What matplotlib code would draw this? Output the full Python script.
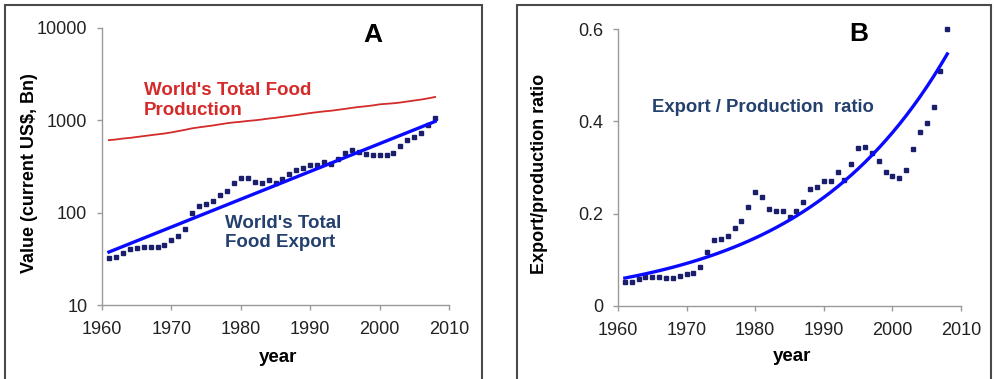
import numpy as np
import matplotlib
matplotlib.use('Agg')
import matplotlib.pyplot as plt
from matplotlib.patches import Rectangle
from matplotlib.ticker import FixedLocator, FixedFormatter

plt.rcParams['font.family'] = ['Liberation Sans', 'DejaVu Sans']

years = list(range(1961, 2009))

# world food export, current US$ bn (panel A markers)
food_export = [32.5, 33, 37, 40, 41, 42.5, 43, 43, 45, 51,
               56, 66, 99, 117, 124, 134, 155, 172, 210, 238,
               238, 215, 210, 224, 210, 229, 261, 293, 308, 326,
               326, 355, 340, 385, 444, 474, 455, 437, 420, 420,
               420, 447, 524, 610, 660, 730, 883, 1070]

# world food production, current US$ bn (panel A red line)
food_production = [610, 620, 635, 645, 660, 675, 690, 705, 720, 740,
                   765, 790, 820, 840, 860, 880, 905, 930, 950, 965,
                   985, 1000, 1020, 1045, 1065, 1090, 1115, 1140, 1170, 1200,
                   1225, 1250, 1270, 1300, 1330, 1365, 1395, 1420, 1450, 1490,
                   1510, 1530, 1560, 1600, 1640, 1680, 1730, 1790]

# export / production ratio (panel B markers)
export_ratio = [0.053, 0.053, 0.058, 0.062, 0.062, 0.063, 0.061, 0.060, 0.065, 0.069,
                0.071, 0.085, 0.116, 0.143, 0.145, 0.152, 0.170, 0.185, 0.215, 0.246,
                0.237, 0.211, 0.206, 0.206, 0.193, 0.206, 0.226, 0.253, 0.257, 0.271,
                0.271, 0.290, 0.273, 0.307, 0.342, 0.344, 0.332, 0.313, 0.290, 0.282,
                0.278, 0.295, 0.340, 0.376, 0.397, 0.432, 0.509, 0.599]

x_ticks = [1960, 1970, 1980, 1990, 2000, 2010]

RED = '#d42a2a'
NAVY = '#24406e'
MARK = '#1b1f6b'
BLUE = '#0a0aff'
SPINE = '#9a9a9a'


def style_axis(ax):
    for s in ['top', 'right']:
        ax.spines[s].set_visible(False)
    for s in ['left', 'bottom']:
        ax.spines[s].set_color(SPINE)
        ax.spines[s].set_linewidth(1.0)
    ax.tick_params(axis='both', which='major', direction='out', length=3.6,
                   width=1.0, color=SPINE, labelsize=13, labelcolor='#222222')
    ax.tick_params(axis='y', pad=7)
    ax.tick_params(axis='x', pad=8)
    ax.tick_params(axis='y', which='minor', length=0)
    ax.set_xlim(1960, 2010)
    ax.set_xticks(x_ticks)


def main():
    fig = plt.figure(figsize=(9.94, 3.79), dpi=100)
    yr = np.array(years)

    # panel frames
    for x0, x1 in [(5, 482), (517, 991)]:
        fig.add_artist(Rectangle((x0 / 994, -0.1), (x1 - x0) / 994, 1.1 - 5 / 379,
                                 transform=fig.transFigure, fill=False,
                                 edgecolor='#4a4a4a', linewidth=1.5, clip_on=False))

    # ---- panel A ----
    ax1 = fig.add_axes([102 / 994, 1 - 305 / 379, 347 / 994, 277 / 379])
    ax1.set_yscale('log')
    ax1.set_ylim(10, 10000)
    style_axis(ax1)
    ax1.yaxis.set_major_locator(FixedLocator([10, 100, 1000, 10000]))
    ax1.yaxis.set_major_formatter(FixedFormatter(['10', '100', '1000', '10000']))

    ax1.plot(yr, food_production, color=RED, lw=1.3)
    ax1.plot(yr, food_export, ls='none', marker='s', ms=3.2, color=MARK, mec=MARK,
             clip_on=False)
    k, b = np.polyfit(yr, np.log(food_export), 1)
    ax1.plot(yr, np.exp(b + k * yr), color=BLUE, lw=2.4)

    ax1.text(1999, 8400, 'A', fontsize=19, fontweight='bold', ha='center', va='center')
    ax1.text(1966.0, 2600, "World's Total Food\nProduction", color=RED, fontsize=13.5,
             fontweight='bold', ha='left', va='top', linespacing=1.2)
    ax1.text(1977.7, 95, "World's Total\nFood Export", color=NAVY, fontsize=13.5,
             fontweight='bold', ha='left', va='top', linespacing=1.2)

    ax1.set_ylabel('Value (current US$, Bn)', fontsize=13, fontweight='bold')
    ax1.yaxis.label.set_va('center')
    ax1.yaxis.set_label_coords(-0.21, 0.475)
    ax1.set_xlabel('year', fontsize=13.5, fontweight='bold')
    ax1.xaxis.label.set_va('center')
    ax1.xaxis.set_label_coords(0.507, -0.188)

    # ---- panel B ----
    ax2 = fig.add_axes([618 / 994, 1 - 306 / 379, 343 / 994, 277 / 379])
    ax2.set_ylim(0, 0.6)
    style_axis(ax2)
    ax2.set_yticks([0, 0.2, 0.4, 0.6])
    ax2.set_yticklabels(['0', '0.2', '0.4', '0.6'])

    ax2.plot(yr, export_ratio, ls='none', marker='s', ms=3.2, color=MARK, mec=MARK,
             clip_on=False)
    k2, b2 = np.polyfit(yr, np.log(export_ratio), 1)
    ax2.plot(yr, np.exp(b2 + k2 * yr), color=BLUE, lw=2.4)

    ax2.text(1995.1, 0.589, 'B', fontsize=19, fontweight='bold', ha='center', va='center')
    ax2.text(1965.0, 0.429, 'Export / Production  ratio', color=NAVY, fontsize=13.3,
             fontweight='bold', ha='left', va='center')

    ax2.set_ylabel('Export/production ratio', fontsize=13, fontweight='bold')
    ax2.yaxis.label.set_va('center')
    ax2.yaxis.set_label_coords(-0.23, 0.478)
    ax2.set_xlabel('year', fontsize=13.5, fontweight='bold')
    ax2.xaxis.label.set_va('center')
    ax2.xaxis.set_label_coords(0.507, -0.184)

    fig.savefig('out.png', dpi=100)


if __name__ == "__main__":
    main()
